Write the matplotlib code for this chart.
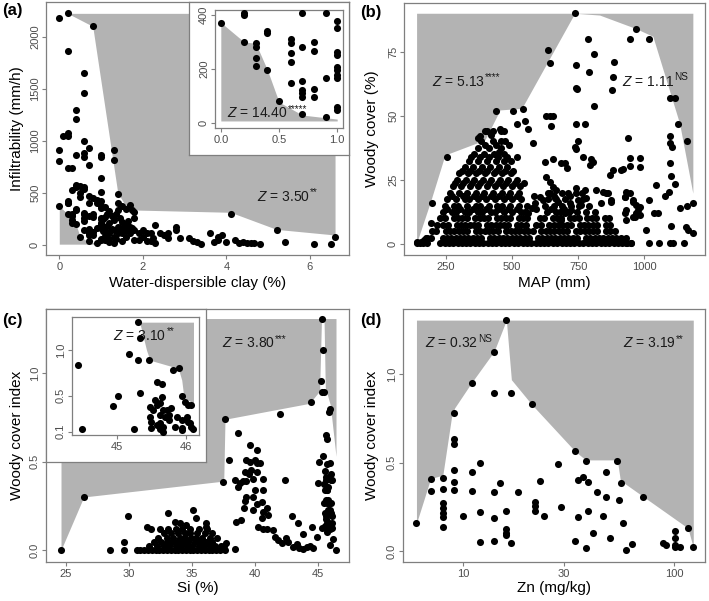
import matplotlib
matplotlib.use('Agg')
import matplotlib.pyplot as plt
import numpy as np

plt.rcParams['font.family'] = ['Liberation Sans', 'DejaVu Sans']
plt.rcParams['mathtext.fontset'] = 'custom'
plt.rcParams['mathtext.rm'] = 'Liberation Sans'
plt.rcParams['mathtext.it'] = 'Liberation Sans:italic'
plt.rcParams['mathtext.bf'] = 'Liberation Sans:bold'

# ---------------- data ----------------
# (a) infiltrability vs water-dispersible clay
a_clay = [0.0, 0.2, 0.2, 0.2, 0.3, 0.3, 0.3, 0.3, 0.4, 0.4, 0.4, 0.5, 0.6, 0.6, 0.6, 0.6, 0.6,
          0.7, 0.7, 0.7, 0.7, 0.7, 0.7, 0.7, 0.8, 0.8, 0.8, 0.8, 0.9, 0.9, 0.9,
          1.0, 1.0, 1.0, 1.0, 1.0, 1.0, 1.0, 1.0, 1.0, 1.0,
          0.0, 0.2, 0.8, 0.2, 0.6, 0.6, 0.4, 0.4, 0.1, 0.2, 0.2, 0.6, 0.0, 0.0, 0.4, 0.2, 0.3,
          0.6, 0.6, 0.7, 0.7, 1.0, 1.0, 1.0, 0.2, 0.3, 0.4, 0.5, 0.6, 0.5, 0.5, 1.0, 0.7, 0.8,
          0.9, 1.0, 0.4, 0.6,
          1.3, 1.3, 1.4, 1.1, 1.4, 1.5, 1.6, 1.7, 1.75, 1.8, 1.8,
          1.1, 1.1, 1.1, 1.2, 1.2, 1.2, 1.3, 1.3, 1.3, 1.4, 1.4, 1.4, 1.5, 1.5, 1.6, 1.6, 1.7,
          1.7, 1.8, 1.8, 1.9, 1.9, 2.0, 2.0, 2.1, 2.1, 2.2, 2.2, 2.3, 2.3, 1.15, 1.25, 1.35,
          1.45, 1.55, 1.65, 1.75, 1.25, 1.15, 1.05, 1.05, 1.2, 1.3, 1.5, 1.6, 1.1, 1.45, 1.2, 1.35,
          2.25, 2.4, 2.5, 2.6, 2.6, 2.8, 2.8, 2.9, 3.1, 3.2, 3.3, 3.4, 3.6, 3.7, 3.8, 3.8, 3.9,
          4.1, 4.0, 4.2, 4.3, 4.4, 4.5, 4.6, 4.65, 4.8, 5.2, 5.4, 6.1, 6.5, 6.6]
a_infil = [371, 408, 400, 301, 295, 283, 242, 211, 341, 332, 197, 80, 310, 295, 258, 227, 148,
           408, 283, 154, 123, 111, 96, 34, 301, 268, 125, 98, 408, 168, 22,
           379, 351, 264, 252, 209, 197, 178, 166, 61, 49,
           2176, 2224, 2102, 1866, 1648, 1456, 1296, 1206, 1046, 1046, 1072, 1000, 912, 806, 864,
           736, 736, 886, 848, 928, 768, 864, 848, 640, 420, 528, 576, 566, 560, 496, 464, 512,
           470, 448, 432, 420, 560, 540,
           912, 816, 486, 368, 400, 370, 350, 380, 340, 320, 256,
           48, 144, 272, 112, 208, 32, 144, 240, 80, 336, 176, 112, 224, 112, 144, 80, 176,
           112, 144, 48, 112, 48, 144, 80, 112, 42, 112, 42, 192, 16, 180, 150, 60,
           140, 180, 230, 160, 280, 300, 250, 130, 330, 20, 40, 200, 90, 260, 60, 300,
           64, 112, 96, 112, 64, 176, 144, 64, 64, 42, 32, 10, 118, 32, 48, 80, 96,
           300, 32, 48, 22, 32, 22, 22, 22, 6, 140, 32, 6, 6, 75]
a_up_x = [0.2, 0.8, 1.4, 1.6, 1.9, 4.1, 5.2, 6.6]
a_up_y = [2224, 2100, 500, 370, 335, 314, 150, 96]
a_top = 2224
a_lo_x = [0.0, 0.2, 0.3, 0.4, 0.5, 0.7, 0.9, 1.0]
a_lo_y = [372, 300, 295, 197, 78, 30, 20, 15]
a_bottom = 8

# (b) woody cover vs MAP
b_sparse_map = [737, 969, 944, 1019, 637, 643, 740, 787, 810, 790, 884, 881, 879, 742, 746, 810,
                1095, 1114, 1126, 643, 655, 630, 649, 743, 777, 938, 1160, 1095, 1095, 1105, 737,
                743, 750, 768, 800, 806, 793, 944, 982, 944, 982, 919, 881, 869, 1097, 1101, 1117,
                1045, 1092, 1076, 1019, 957, 931, 944, 925, 863, 837, 875, 1136, 1160, 1183, 969,
                976, 969, 984, 925, 932, 957, 1038, 1051, 1007, 1101, 1158, 1164, 1183, 1017, 1057,
                1095, 1107, 1151, 931, 950, 624, 655, 687, 699, 706, 913, 856, 875, 925, 931, 957,
                963, 982, 819, 844, 743, 765, 775, 780, 750, 760, 630, 643, 655, 668, 636, 661, 674,
                605, 618, 586, 574, 561, 712, 718, 724, 699, 687, 580, 560, 548, 540, 505, 520,
                470, 455, 460, 450, 440, 380, 373, 405, 254, 197, 143, 156, 168, 181, 195]
b_sparse_cov = [90, 84, 80, 80, 75.7, 70.5, 70, 80, 74, 67, 71, 65, 60, 61, 60.5, 54,
                57, 57, 47, 50, 50, 50, 46, 47, 47, 41.5, 40, 42, 39.5, 38, 38,
                37, 40, 34, 33, 32, 31, 33.4, 33.4, 30.6, 30.2, 29.3, 28.9, 27, 31.5, 26.5, 23.3,
                23, 20.4, 18.7, 17.2, 17.2, 20.4, 19.8, 18.5, 19.8, 16, 17.2, 14, 14.8, 16, 15.2,
                13.3, 12, 11.3, 12, 9.4, 10.7, 12, 12, 5.5, 7, 6.8, 5.5, 4.2, 0.3, 0.3,
                0.3, 0.3, 0.3, 0.3, 0.3, 32, 33, 31.5, 31.7, 29.5, 29, 19.8, 16.5, 18.2, 13.3, 16.5,
                10.7, 14.6, 21, 20.4, 21.7, 19.8, 21, 17.8, 17.2, 15.2, 26.3, 24.3, 22.4, 21, 19.8, 17.8, 16.5,
                18.5, 17.2, 15.9, 13.9, 12, 19.8, 15.9, 13.3, 12, 9.4, 39.5, 45, 48, 52.5, 52, 47,
                44, 45, 40, 36, 52, 42, 41.5, 44, 34, 16, 0.9, 0.9, 1.6, 2.2, 8]
# dense part of (b), read row by row (cover level, MAP values)
b_row_00 = [140, 152, 165, 178, 230, 246, 262, 277, 295, 310, 326, 343, 360, 376, 392, 410, 425, 441,
            458, 474, 490, 507, 523, 540, 556, 573, 590, 605, 621, 638, 654, 671, 688, 703, 720, 736,
            752, 770, 786, 802, 818, 835, 851, 868, 884, 900, 917, 934, 950]
b_row_02 = [176, 195, 238, 254, 270, 287, 303, 318, 336, 352, 369, 385, 418, 434, 450, 467, 483,
            500, 516, 532, 549, 566, 598, 615, 631, 648, 664, 680, 697, 713, 730, 746, 779,
            795, 812, 828, 845, 861, 877, 894, 912, 930]
b_row_05 = [198, 214, 250, 266, 283, 299, 315, 332, 364, 381, 397, 413, 430, 446, 479, 495,
            511, 528, 544, 561, 578, 610, 627, 643, 660, 676, 692, 709, 741, 758, 774, 790,
            807, 823, 856, 872, 890]
b_row_07 = [218, 240, 258, 291, 307, 324, 340, 356, 373, 405, 422, 438, 455, 471, 487,
            520, 536, 553, 592, 608, 641, 657, 674, 690, 706, 723, 756, 772, 788, 805, 821,
            854, 872]
b_row_10 = [228, 247, 280, 296, 313, 329, 362, 378, 394, 411, 444, 460, 476, 493,
            525, 542, 558, 605, 621, 654, 670, 687, 720, 736, 752, 785, 801, 818,
            852, 866]
b_row_12 = [238, 272, 289, 321, 338, 371, 387, 420, 436, 469, 501, 534, 551, 632, 665, 681, 714, 746,
            779, 815]
b_row_14 = [255, 305, 354, 403, 452, 485, 518, 590, 648, 697]
b_row_15 = [248, 281, 297, 330, 363, 379, 412, 444, 461, 493, 526, 556, 624, 657, 690, 722, 755, 792]
b_row_17 = [256, 289, 322, 338, 371, 403, 436, 469, 502, 535, 635, 668, 700, 770]
b_row_19 = [273, 314, 355, 387, 420, 452, 485, 518, 585, 660, 720]
b_row_20 = [266, 299, 331, 363, 396, 429, 461, 494, 527, 645, 690, 740]
b_row_22 = [276, 308, 340, 372, 404, 436, 468, 500, 532]
b_row_24 = [284, 316, 349, 381, 413, 446, 478, 511, 545]
b_row_25 = [292, 325, 357, 390, 422, 455, 487, 520]
b_row_27 = [302, 334, 366, 399, 431, 463, 496]
b_row_29 = [310, 343, 375, 407, 440, 472, 505]
b_row_30 = [322, 354, 386, 419, 451, 483]
b_row_32 = [338, 372, 405, 438, 471, 498]
b_row_34 = [346, 380, 414, 447, 480, 520]
b_row_35 = [356, 394, 432, 470]
b_row_37 = [370, 414, 458]
b_row_39 = [398, 440, 490]
b_row_40 = [384, 428, 474]
b_row_42 = [420]
b_row_44 = [398, 430, 460]
b_rows = [(0.5, b_row_00), (2.5, b_row_02), (5.0, b_row_05), (7.5, b_row_07), (10.0, b_row_10),
          (12.5, b_row_12), (13.8, b_row_14), (15.0, b_row_15), (17.5, b_row_17), (18.9, b_row_19),
          (20.0, b_row_20), (22.5, b_row_22), (23.7, b_row_24), (25.0, b_row_25), (27.5, b_row_27),
          (28.6, b_row_29), (30.0, b_row_30), (32.5, b_row_32), (33.9, b_row_34), (35.0, b_row_35),
          (37.5, b_row_37), (38.8, b_row_39), (40.0, b_row_40), (42.5, b_row_42), (44.0, b_row_44)]
b_map = b_sparse_map + [x for yv, xs in b_rows for x in xs]
b_cover = b_sparse_cov + [yv for yv, xs in b_rows for x in xs]
b_up_x = [140, 194, 247, 398, 455, 537, 737, 831, 969, 1032, 1133, 1183]
b_up_y = [0.3, 17, 34.7, 40.6, 52.3, 52.9, 90, 89.3, 84, 81, 47, 19.8]
b_top = 90

# (c) woody cover index vs Si
c_si = [24.6, 26.4, 28.5, 29.6, 29.6, 29.9,
        30.6, 30.9, 31.2, 31.5, 31.8, 32.1, 32.4, 32.7, 33.0, 33.3, 33.6, 33.9, 34.2, 34.5, 34.8,
        35.1, 35.4, 35.7, 36.0, 36.3, 36.6, 36.9, 37.2, 37.6,
        31.6, 32.2, 32.8, 33.2, 33.7, 34.1, 34.6, 35.0, 35.5, 35.9, 36.4, 36.8, 37.3,
        32.0, 32.5, 33.0, 33.4, 33.8, 34.3, 34.7, 35.2, 35.6, 36.1, 36.6,
        32.3, 33.0, 33.5, 34.0, 34.4, 34.9, 35.3, 35.8, 36.4, 37.0,
        32.8, 33.3, 33.9, 34.4, 34.8, 35.4, 36.0, 36.6,
        31.7, 33.1, 33.7, 34.2, 34.8, 35.5, 36.2,
        31.4, 32.45, 33.1, 35.09, 35.3, 36.1, 36.1, 34.0, 34.5, 33.6, 37.5, 37.7, 38.4,
        37.47, 37.6, 38.66, 37.95, 38.4, 38.66, 38.5, 38.9, 39.6, 40.1,
        39.3, 39.6, 40.0, 40.1, 40.4, 39.2, 39.5, 39.7, 40.1, 40.6,
        38.8, 39.05, 39.3, 39.85, 40.0, 40.6, 39.3, 39.2, 39.85, 40.1, 40.5, 40.9,
        39.1, 39.85, 40.6, 40.5, 41.0, 40.2, 40.6, 40.9,
        41.4, 41.6, 41.8, 42.1, 42.4, 42.6, 43.0, 43.3, 43.5, 43.8, 44.1, 44.3, 44.6,
        42.36, 41.96, 42.9, 43.4, 43.8, 44.5, 44.9, 46.4, 45.9, 46.2,
        45.30, 45.34, 45.18, 45.31, 45.47, 44.44, 45.82, 45.90, 45.58, 45.65, 45.33, 45.02, 44.94,
        45.25, 45.48, 45.53, 45.58, 45.55, 45.63, 45.66, 45.67, 45.72, 45.63, 45.70, 45.75, 45.79,
        45.87, 45.48, 45.50, 45.58, 45.63, 45.67, 45.75, 45.94, 46.01, 46.03, 46.06, 46.08, 46.11,
        45.94, 45.95, 45.50, 45.63, 45.67, 45.84, 45.94, 45.99, 46.03, 46.08]
c_wci = [0.0, 0.30, 0.0, 0.0, 0.047, 0.19,
         0, 0, 0, 0, 0, 0, 0, 0, 0, 0, 0, 0, 0, 0, 0, 0, 0, 0, 0, 0, 0, 0, 0, 0,
         0.02, 0.02, 0.02, 0.02, 0.02, 0.02, 0.02, 0.02, 0.02, 0.02, 0.02, 0.02, 0.02,
         0.045, 0.045, 0.045, 0.045, 0.045, 0.045, 0.045, 0.045, 0.045, 0.045, 0.045,
         0.07, 0.07, 0.07, 0.07, 0.07, 0.07, 0.07, 0.07, 0.07, 0.07,
         0.095, 0.095, 0.095, 0.095, 0.095, 0.095, 0.095, 0.095,
         0.12, 0.12, 0.12, 0.12, 0.12, 0.12, 0.12,
         0.128, 0.117, 0.208, 0.226, 0.179, 0.15, 0.13, 0.15, 0.14, 0.16, 0.02, 0.04, 0.005,
         0.387, 0.74, 0.66, 0.51, 0.396, 0.358, 0.16, 0.17, 0.594, 0.566,
         0.51, 0.50, 0.51, 0.49, 0.49, 0.44, 0.43, 0.45, 0.44, 0.40,
         0.38, 0.39, 0.39, 0.40, 0.34, 0.34, 0.30, 0.28, 0.30, 0.26, 0.27, 0.24,
         0.236, 0.226, 0.217, 0.18, 0.20, 0.13, 0.12, 0.12,
         0.113, 0.075, 0.057, 0.038, 0.066, 0.047, 0.019, 0.034, 0.009, 0.004, 0.019, 0.023, 0.009,
         0.396, 0.77, 0.19, 0.15, 0.09, 0.13, 0.075, 0.0, 0.03, 0.06,
         1.31, 1.13, 0.956, 0.897, 0.897, 0.835, 0.78, 0.80, 0.65, 0.63, 0.53, 0.50, 0.38,
         0.126, 0.375, 0.339, 0.394, 0.449, 0.412, 0.485, 0.339, 0.339, 0.284, 0.265, 0.284, 0.357,
         0.265, 0.265, 0.21, 0.173, 0.192, 0.155, 0.228, 0.228, 0.265, 0.21, 0.192, 0.155, 0.126,
         0.137, 0.118, 0.137, 0.126, 0.10, 0.155, 0.49, 0.43, 0.394, 0.394]
c_up_x = [24.6, 26.4, 37.5, 37.6, 44.3, 45.1, 45.25, 45.45, 45.55, 45.95, 46.4]
c_up_y = [0.0, 0.30, 0.39, 0.74, 0.83, 0.90, 1.31, 1.31, 0.92, 0.82, 0.53]
c_top = 1.31
ci_up_x = [45.33, 45.43, 45.48, 45.89, 45.94, 45.97, 46.11]
ci_up_y = [1.31, 1.0, 0.89, 0.80, 0.67, 0.485, 0.41]

# (d) woody cover index vs Zn
d_zn = [6.0, 7.0, 7.0, 8.0, 8.0, 8.0, 8.0, 8.0, 8.0, 8.0, 9.0, 9.0, 9.0, 9.0, 9.0, 9.0, 10.0,
        10.95, 10.95, 10.95, 12.0, 12.0, 12.0, 14.0, 14.0, 14.0, 14.0, 14.0, 16.0, 16.0, 16.0, 16.0,
        16.0, 14.9, 16.9, 16.9, 18.1, 21.1, 21.9, 21.9, 21.9, 23.1, 24.0, 28.0, 29.0, 33.8, 33.8,
        35.1, 37.0, 39.1, 35.1, 38.1, 38.1, 38.8, 41.0, 43.0, 46.0, 47.7, 47.7, 49.5, 53.7, 54.8,
        55.8, 56.9, 59.0, 62.8, 70.8, 88.7, 91.2, 100.7, 100.7, 100.7, 100.7, 106.0, 116.4, 123.0]
d_wci = [0.157, 0.406, 0.34, 0.415, 0.351, 0.27, 0.242, 0.217, 0.194, 0.138, 0.779, 0.632, 0.606,
         0.458, 0.392, 0.345, 0.198, 0.949, 0.449, 0.34, 0.5, 0.219, 0.053, 1.128, 0.896, 0.332,
         0.189, 0.058, 1.307, 0.228, 0.123, 0.104, 0.09, 0.383, 0.896, 0.043, 0.332, 0.83, 0.279,
         0.255, 0.226, 0.398, 0.2, 0.49, 0.247, 0.566, 0.058, 0.4, 0.42, 0.392, 0.194, 0.511, 0.015,
         0.228, 0.1, 0.336, 0.198, 0.449, 0.308, 0.072, 0.511, 0.289, 0.387, 0.16, 0.006, 0.04,
         0.308, 0.047, 0.034, 0.072, 0.034, 0.025, 0.115, 0.025, 0.128, 0.021]
d_up_x = [6.0, 7.0, 8.0, 8.8, 9.1, 10.9, 14.0, 16.0, 16.9, 21.1, 33.8, 38.0, 53.7, 55.5, 116.0, 123.0]
d_up_y = [0.157, 0.41, 0.43, 0.76, 0.81, 0.95, 1.13, 1.307, 0.97, 0.83, 0.566, 0.516, 0.516, 0.40, 0.13, 0.02]
d_top = 1.307

# ---------------- figure ----------------
W, H = 709, 601
fig = plt.figure(figsize=(W / 100, H / 100), dpi=100)

BORDER = '#7f7f7f'
TXT = '#4d4d4d'
GRAY = '#b3b3b3'
PT = 26


def add_ax(l, t, r, b):
    return fig.add_axes([l / W, 1 - b / H, (r - l) / W, (b - t) / H])


def style(ax, fs=8):
    for s in ax.spines.values():
        s.set_color(BORDER)
        s.set_linewidth(0.9)
    ax.tick_params(length=2.75, width=0.8, color=BORDER, labelcolor=TXT, labelsize=fs)
    ax.tick_params(axis='x', pad=2.5)
    ax.tick_params(axis='y', pad=1.5)
    for lab in ax.get_yticklabels():
        lab.set_rotation(90)
        lab.set_va('center')
        lab.set_ha('right')


def ztext(ax, x, y, value, sup, fs=10):
    t = ax.text(x, y, r'$Z$ = ' + value, ha='left', va='center', fontsize=fs,
                color='#1a1a1a', zorder=3)
    ax.annotate(sup, xy=(1.0, 1.18), xycoords=t, ha='left', va='top', fontsize=fs * 0.72,
                color='#1a1a1a', zorder=3)


# ----- (a)
ax = add_ax(46, 2, 349, 255)
ax.fill_between(a_up_x, a_up_y, a_top, color=GRAY, lw=0, zorder=1)
ax.fill_between(a_lo_x, a_bottom, a_lo_y, color=GRAY, lw=0, zorder=1)
ztext(ax, 4.73, 460, '3.50', '**')
ax.scatter(a_clay, a_infil, s=PT, c='black', lw=0, zorder=4)
ax.set_xlim(-0.318, 6.934)
ax.set_ylim(-96, 2333)
ax.set_xticks([0, 2, 4, 6])
ax.set_yticks([0, 500, 1000, 1500, 2000])
style(ax)

# inset (a)
fr = add_ax(189, 2, 349, 155)
fr.set_xticks([]); fr.set_yticks([])
fr.set_facecolor('white')
for s in fr.spines.values():
    s.set_color(BORDER); s.set_linewidth(0.9)
ia = add_ax(215, 10, 343, 128)
ia.fill_between(a_lo_x, a_bottom, a_lo_y, color=GRAY, lw=0, zorder=1)
ia_mask = [(x <= 1.0 and y <= 410) for x, y in zip(a_clay, a_infil)]
ia.scatter([x for x, m in zip(a_clay, ia_mask) if m], [y for y, m in zip(a_infil, ia_mask) if m],
           s=PT, c='black', lw=0, zorder=4)
ztext(ia, 0.057, 37, '14.40', '*****')
ia.set_xlim(-0.05, 1.05)
ia.set_ylim(-18, 418)
ia.set_xticks([0, 0.5, 1.0])
ia.set_xticklabels(['0.0', '0.5', '1.0'])
ia.set_yticks([0, 200, 400])
style(ia)

# ----- (b)
bx = add_ax(404, 3, 704.5, 255)
bx.fill_between(b_up_x, b_up_y, b_top, color=GRAY, lw=0, zorder=1)
ztext(bx, 197, 63.3, '5.13', '****')
ztext(bx, 914, 63.3, '1.11', 'NS')
bx.scatter(b_map, b_cover, s=PT, c='black', lw=0, zorder=4)
bx.set_xlim(92.5, 1227)
bx.set_ylim(-4.29, 94.0)
bx.set_xticks([250, 500, 750, 1000])
bx.set_yticks([0, 25, 50, 75])
style(bx)

# ----- (c)
cx = add_ax(46, 309, 349, 562)
cx.fill_between(c_up_x, c_up_y, c_top, color=GRAY, lw=0, zorder=1)
ztext(cx, 37.34, 1.17, '3.80', '***')
cx.scatter(c_si, c_wci, s=PT, c='black', lw=0, zorder=4)
cx.set_xlim(23.41, 47.43)
cx.set_ylim(-0.068, 1.364)
cx.set_xticks([25, 30, 35, 40, 45])
cx.set_yticks([0.0, 0.5, 1.0])
cx.set_yticklabels(['0.0', '0.5', '1.0'])
style(cx)

# inset (c)
fr2 = add_ax(46, 309, 206, 462)
fr2.set_xticks([]); fr2.set_yticks([])
fr2.set_facecolor('white')
for s in fr2.spines.values():
    s.set_color(BORDER); s.set_linewidth(0.9)
ic = add_ax(72, 317, 199, 435)
ic.fill_between(ci_up_x, ci_up_y, c_top, color=GRAY, lw=0, zorder=1)
ztext(ic, 44.95, 1.157, '3.10', '**')
ic_mask = [(x >= 44.4 and y >= 0.1) for x, y in zip(c_si, c_wci)]
ic.scatter([x for x, m in zip(c_si, ic_mask) if m], [y for y, m in zip(c_wci, ic_mask) if m],
           s=PT, c='black', lw=0, zorder=4)
ic.set_xlim(44.35, 46.19)
ic.set_ylim(0.064, 1.367)
ic.set_xticks([45, 46])
ic.set_yticks([0.1, 0.5, 1.0])
ic.set_yticklabels(['0.1', '0.5', '1.0'])
style(ic)

# ----- (d)
dx = add_ax(403, 309, 705, 562)
dx.set_xscale('log')
dx.fill_between(d_up_x, d_up_y, d_top, color=GRAY, lw=0, zorder=1)
ztext(dx, 6.59, 1.175, '0.32', 'NS')
ztext(dx, 57.1, 1.175, '3.19', '**')
dx.scatter(d_zn, d_wci, s=PT, c='black', lw=0, zorder=4)
dx.set_xlim(5.18, 139.8)
dx.set_ylim(-0.062, 1.37)
dx.set_xticks([10, 30, 100])
dx.set_xticklabels(['10', '30', '100'])
dx.xaxis.set_minor_locator(matplotlib.ticker.NullLocator())
dx.set_yticks([0.0, 0.5, 1.0])
dx.set_yticklabels(['0.0', '0.5', '1.0'])
style(dx)

# ----- labels
for (x, y, s) in [(2, 11, '(a)'), (360, 12, '(b)'), (2, 320, '(c)'), (360, 320, '(d)')]:
    fig.text(x / W, 1 - y / H, s, fontsize=12, fontweight='bold', va='center', ha='left')


def ftext(x, y, s, rot=0):
    fig.text(x / W, 1 - y / H, s, fontsize=11, ha='center', va='center', rotation=rot)


ftext(197.5, 283, 'Water-dispersible clay (%)')
ftext(17, 128.5, 'Infiltrability (mm/h)', 90)
ftext(554, 283, 'MAP (mm)')
ftext(372, 129, 'Woody cover (%)', 90)
ftext(197.5, 588, 'Si (%)')
ftext(17, 435, 'Woody cover index', 90)
ftext(554, 588, 'Zn (mg/kg)')
ftext(372, 435, 'Woody cover index', 90)

fig.savefig('out.png', dpi=100)
